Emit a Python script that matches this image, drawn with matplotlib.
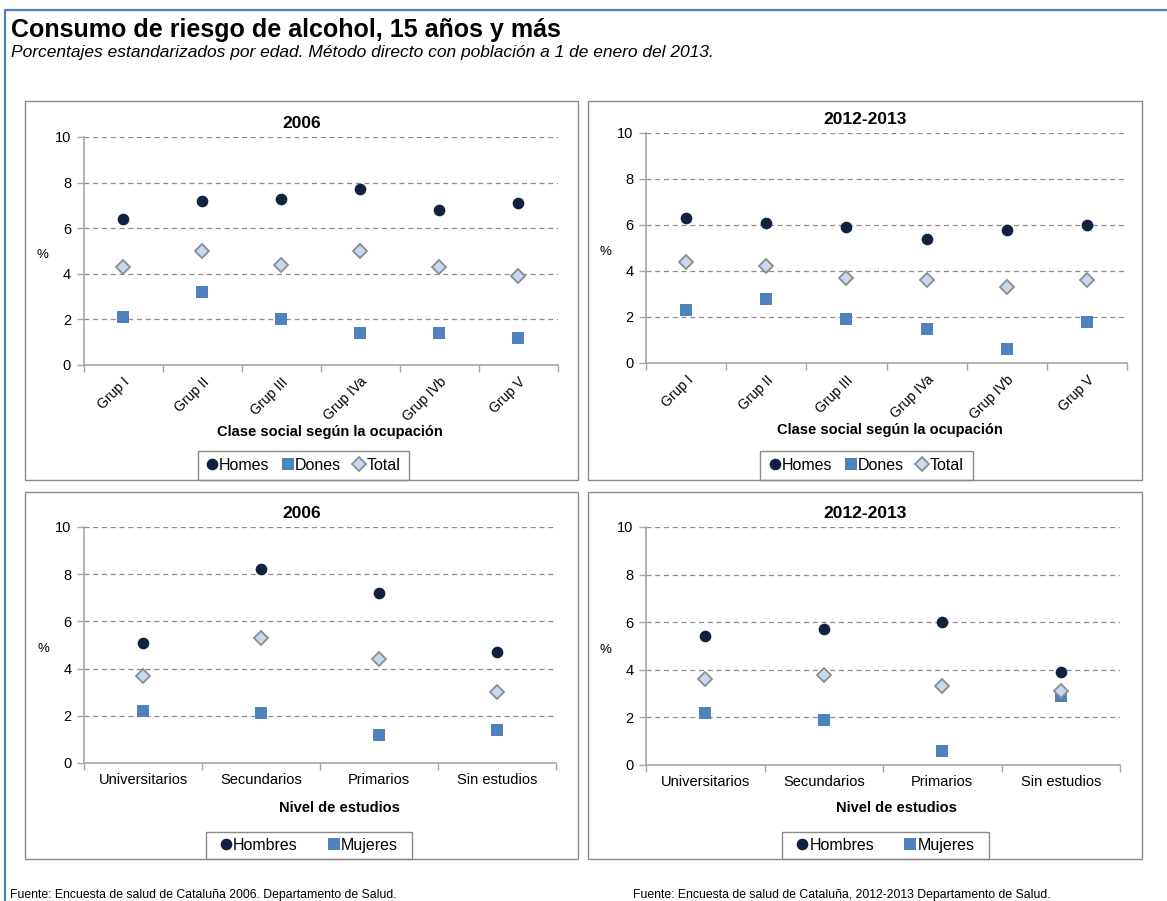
import numpy as np
import matplotlib
matplotlib.use("Agg")
import matplotlib.pyplot as plt
from matplotlib.patches import Rectangle
from matplotlib.lines import Line2D
import matplotlib.transforms as mtransforms

plt.rcParams["font.family"] = ["Liberation Sans", "DejaVu Sans"]

W, H, DPI = 1167, 901, 100

# ---- data ---------------------------------------------------------------
grupos = ["Grup I", "Grup II", "Grup III", "Grup IVa", "Grup IVb", "Grup V"]
estudios = ["Universitarios", "Secundarios", "Primarios", "Sin estudios"]

homes_2006 = [6.4, 7.2, 7.3, 7.7, 6.8, 7.1]
dones_2006 = [2.1, 3.2, 2.0, 1.4, 1.4, 1.2]
total_2006 = [4.3, 5.0, 4.4, 5.0, 4.3, 3.9]

homes_2013 = [6.3, 6.1, 5.9, 5.4, 5.8, 6.0]
dones_2013 = [2.3, 2.8, 1.9, 1.5, 0.6, 1.8]
total_2013 = [4.4, 4.2, 3.7, 3.6, 3.3, 3.6]

hombres_est_2006 = [5.1, 8.2, 7.2, 4.7]
mujeres_est_2006 = [2.2, 2.1, 1.2, 1.4]
total_est_2006 = [3.7, 5.3, 4.4, 3.0]

hombres_est_2013 = [5.4, 5.7, 6.0, 3.9]
mujeres_est_2013 = [2.2, 1.9, 0.6, 2.9]
total_est_2013 = [3.6, 3.8, 3.3, 3.1]

y_ticks = [0, 2, 4, 6, 8, 10]

# ---- styles -------------------------------------------------------------
C_MEN = "#10223F"
C_WOMEN = "#4F81BD"
C_TOTAL = "#C6D9F1"
C_TOTAL_EDGE = "#8C8C8C"
C_AXIS = "#A6A6A6"
C_GRID = "#8C8C8C"
C_BOX = "#8A8A8A"

STY_MEN = dict(marker="o", ms=8.4, color=C_MEN, mec=C_MEN, mew=0, ls="none")
STY_WOMEN = dict(marker="s", ms=8.4, color=C_WOMEN, mec=C_WOMEN, mew=0, ls="none")
STY_TOTAL = dict(marker="D", ms=6.8, color=C_TOTAL, mec=C_TOTAL_EDGE, mew=1.3, ls="none")

fig = plt.figure(figsize=(W / DPI, H / DPI), dpi=DPI)


def fx(px):
    return px / W


def fy(py):
    return 1 - py / H


def add_axes_px(l, t, r, b):
    return fig.add_axes([fx(l), fy(b), (r - l) / W, (b - t) / H])


def box_px(l, t, r, b, **kw):
    rect = Rectangle((fx(l), fy(b)), (r - l) / W, (b - t) / H,
                     transform=fig.transFigure, fill=False, **kw)
    fig.add_artist(rect)


def panel(axrect, boxrect, cats, men, women, total, title, xlabel, xlabel_xy,
          legbox, leg_labels, legend_has_total, rotate, colspacing):
    box_px(*boxrect, edgecolor=C_BOX, lw=1.0, zorder=5)
    bl, bt, br, bb = boxrect
    fig.text(fx((bl + br) / 2), fy(axrect[1] - 13), title, ha="center",
             va="center", fontsize=12.5, fontweight="bold")

    ax = add_axes_px(*axrect)
    n = len(cats)
    x = np.arange(n)
    ax.plot(x, men, zorder=3, clip_on=False, **STY_MEN)
    ax.plot(x, women, zorder=4, clip_on=False, **STY_WOMEN)
    ax.plot(x, total, zorder=5, clip_on=False, **STY_TOTAL)

    ax.set_xlim(-0.5, n - 0.5)
    ax.set_ylim(0, 10)
    ax.set_yticks(y_ticks)
    ax.set_yticklabels([str(v) for v in y_ticks], fontsize=10.5)
    ax.set_xticks(np.arange(n + 1) - 0.5)
    ax.set_xticklabels([""] * (n + 1))
    ax.set_xticks(x, minor=True)
    if rotate:
        ax.set_xticklabels(cats, minor=True, rotation=45, ha="right",
                           va="top", rotation_mode="anchor", fontsize=10)
        off = mtransforms.ScaledTranslation(6 / DPI, -5 / DPI, fig.dpi_scale_trans)
        for lab in ax.get_xticklabels(minor=True):
            lab.set_transform(lab.get_transform() + off)
    else:
        ax.set_xticklabels(cats, minor=True, fontsize=10.5)
    ax.tick_params(axis="x", which="minor", length=0, pad=7)
    ax.tick_params(axis="x", which="major", length=5, color=C_AXIS, width=1)
    ax.tick_params(axis="y", length=5, color=C_AXIS, width=1, pad=4)

    for s in ("top", "right"):
        ax.spines[s].set_visible(False)
    for s in ("left", "bottom"):
        ax.spines[s].set_color(C_AXIS)
        ax.spines[s].set_linewidth(1.2)
        ax.spines[s].set_zorder(2)
    ax.yaxis.grid(True, linestyle=(0, (4, 3)), color=C_GRID, lw=0.9)
    ax.set_axisbelow(True)
    ax.patch.set_visible(False)

    fig.text(fx(axrect[0] - 41), fy((axrect[1] + axrect[3]) / 2 + 4), "%",
             ha="center", va="center", fontsize=9.5)
    fig.text(fx(xlabel_xy[0]), fy(xlabel_xy[1]), xlabel, ha="center",
             va="center", fontsize=10.5, fontweight="bold")

    # legend
    ll, lt, lr, lb = legbox
    box_px(ll, lt, lr, lb, edgecolor=C_BOX, lw=1.0, zorder=6)
    handles = [Line2D([], [], **STY_MEN), Line2D([], [], **STY_WOMEN)]
    if legend_has_total:
        handles.append(Line2D([], [], **STY_TOTAL))
    fig.legend(handles, leg_labels, loc="center",
               bbox_to_anchor=(fx((ll + lr) / 2), fy((lt + lb) / 2)),
               ncol=len(handles), frameon=False, fontsize=11.5,
               handlelength=0.7, handletextpad=0.1,
               columnspacing=colspacing, borderpad=0)
    return ax


panel((83.5, 137, 557.5, 365), (25, 101, 578, 480), grupos,
      homes_2006, dones_2006, total_2006, "2006",
      "Clase social según la ocupación", (330, 432),
      (197.5, 451, 409, 480), ["Homes", "Dones", "Total"], True, True, 0.8)

panel((646, 133, 1127, 363), (588, 101, 1142, 480), grupos,
      homes_2013, dones_2013, total_2013, "2012-2013",
      "Clase social según la ocupación", (890, 430),
      (760, 451, 972.5, 480), ["Homes", "Dones", "Total"], True, True, 0.8)

panel((84, 527, 556, 763), (25, 492, 578, 859), estudios,
      hombres_est_2006, mujeres_est_2006, total_est_2006, "2006",
      "Nivel de estudios", (339, 808),
      (206, 832, 412, 859), ["Hombres", "Mujeres"], False, False, 1.9)

panel((646, 527, 1120, 765), (588, 492, 1142, 859), estudios,
      hombres_est_2013, mujeres_est_2013, total_est_2013, "2012-2013",
      "Nivel de estudios", (896, 808),
      (782, 832, 989, 859), ["Hombres", "Mujeres"], False, False, 1.9)

# page frame
fig.add_artist(Line2D([fx(5), fx(5), fx(W)], [fy(H), fy(10), fy(10)],
                      transform=fig.transFigure, color="#4F81BD", lw=1.6))

fig.text(fx(11), fy(37), "Consumo de riesgo de alcohol, 15 años y más",
         ha="left", va="baseline", fontsize=18, fontweight="bold")
fig.text(fx(11), fy(57), "Porcentajes estandarizados por edad. Método directo "
         "con población a 1 de enero del 2013.", ha="left", va="baseline",
         fontsize=12.5, style="italic")

fig.text(fx(10), fy(898), "Fuente: Encuesta de salud de Cataluña 2006. "
         "Departamento de Salud.", ha="left", va="baseline", fontsize=8.8)
fig.text(fx(633), fy(898), "Fuente: Encuesta de salud de Cataluña, 2012-2013 "
         "Departamento de Salud.", ha="left", va="baseline", fontsize=8.8)

fig.savefig("out.png", dpi=DPI, facecolor="white")
